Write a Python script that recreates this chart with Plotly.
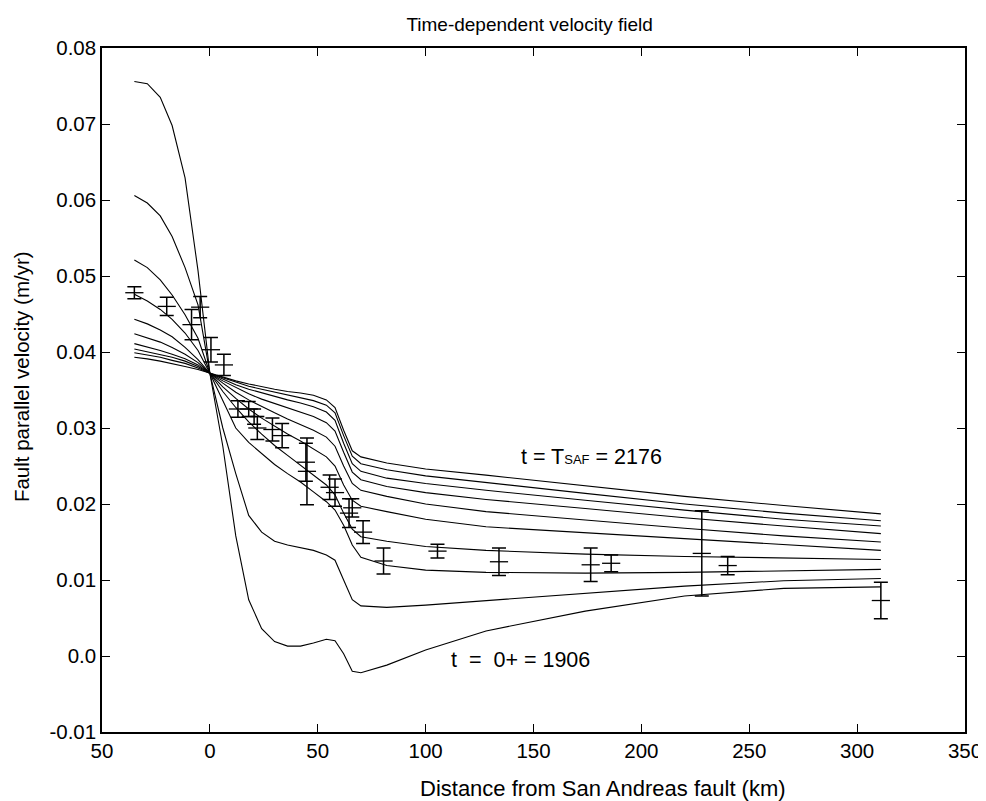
import plotly.graph_objects as go

# ---------------- data ----------------
# model sample positions (km from the San Andreas fault)
x_model = [-35, -29, -23, -17.5, -11.5, -5.5, 0, 6, 12, 18, 24, 30, 36, 42, 48, 54,
           58, 62, 66, 70, 82, 100, 128, 174, 220, 266, 311]

# fault-parallel velocity (m/yr), t = 0+ (1906) ... t = T_SAF (2176)
v_t1 = [0.0756, 0.0753, 0.0735, 0.0698, 0.0629, 0.0507, 0.0372, 0.0276, 0.0158, 0.0074, 0.0036,
        0.0019, 0.0013, 0.0013, 0.0017, 0.0022, 0.0020, 0.0003, -0.0020, -0.0022, -0.0012,
        0.0008, 0.0033, 0.0059, 0.0079, 0.0089, 0.0091]
v_t2 = [0.0606, 0.0596, 0.0579, 0.0552, 0.0511, 0.0462, 0.0372, 0.0300, 0.0240, 0.0185, 0.0163,
        0.0151, 0.0146, 0.0142, 0.0139, 0.0133, 0.0126, 0.0100, 0.0074, 0.0066, 0.0064,
        0.0067, 0.0073, 0.0083, 0.0092, 0.0099, 0.0102]
v_t3 = [0.0521, 0.0511, 0.0495, 0.0475, 0.0449, 0.0418, 0.0372, 0.0335, 0.0300, 0.0281, 0.0266,
        0.0252, 0.0240, 0.0229, 0.0216, 0.0203, 0.0192, 0.0172, 0.0146, 0.0130, 0.0119,
        0.0113, 0.0110, 0.0109, 0.0110, 0.0112, 0.0114]
v_t4 = [0.0476, 0.0467, 0.0456, 0.0443, 0.0425, 0.0402, 0.0372, 0.0348, 0.0327, 0.0308, 0.0292,
        0.0277, 0.0264, 0.0251, 0.0238, 0.0225, 0.0212, 0.0188, 0.0167, 0.0157, 0.0151,
        0.0144, 0.0139, 0.0134, 0.0131, 0.0129, 0.0127]
v_t5 = [0.0443, 0.0437, 0.0429, 0.0420, 0.0406, 0.0390, 0.0372, 0.0354, 0.0339, 0.0325, 0.0313,
        0.0302, 0.0292, 0.0283, 0.0273, 0.0262, 0.0250, 0.0225, 0.0205, 0.0197, 0.0190,
        0.0180, 0.0170, 0.0162, 0.0154, 0.0146, 0.0139]
v_t6 = [0.0424, 0.0419, 0.0413, 0.0406, 0.0397, 0.0386, 0.0372, 0.0359, 0.0347, 0.0337, 0.0328,
        0.0320, 0.0312, 0.0305, 0.0297, 0.0288, 0.0276, 0.0250, 0.0227, 0.0218, 0.0210,
        0.0200, 0.0190, 0.0179, 0.0168, 0.0158, 0.0150]
v_t7 = [0.0411, 0.0407, 0.0402, 0.0397, 0.0391, 0.0383, 0.0372, 0.0362, 0.0353, 0.0345, 0.0338,
        0.0332, 0.0327, 0.0321, 0.0315, 0.0307, 0.0296, 0.0268, 0.0242, 0.0232, 0.0223,
        0.0215, 0.0206, 0.0194, 0.0182, 0.0171, 0.0161]
v_t8 = [0.0404, 0.0400, 0.0397, 0.0393, 0.0388, 0.0381, 0.0372, 0.0364, 0.0357, 0.0351, 0.0346,
        0.0341, 0.0337, 0.0333, 0.0328, 0.0321, 0.0310, 0.0280, 0.0253, 0.0243, 0.0234,
        0.0227, 0.0218, 0.0205, 0.0192, 0.0180, 0.0171]
v_t9 = [0.0399, 0.0396, 0.0393, 0.0389, 0.0385, 0.0379, 0.0372, 0.0366, 0.0360, 0.0355, 0.0351,
        0.0347, 0.0343, 0.0340, 0.0336, 0.0330, 0.0320, 0.0290, 0.0263, 0.0253, 0.0245,
        0.0237, 0.0228, 0.0214, 0.0200, 0.0188, 0.0178]
v_t10 = [0.0393, 0.0391, 0.0388, 0.0385, 0.0381, 0.0377, 0.0372, 0.0367, 0.0362, 0.0358, 0.0354,
         0.0351, 0.0348, 0.0346, 0.0343, 0.0337, 0.0327, 0.0297, 0.0270, 0.0262, 0.0254,
         0.0246, 0.0238, 0.0224, 0.0210, 0.0198, 0.0187]

# observed GPS velocities with 1-sigma errors
x_obs = [-35, -20, -8.5, -4.5, 0.5, 6.5, 13, 18, 20.5, 22, 29, 33.5, 44.5, 45,
         55.5, 58, 64.5, 66, 71, 80.5, 105.5, 134, 176.5, 186, 228, 240, 311]
v_obs = [0.0478, 0.0460, 0.0436, 0.0459, 0.0403, 0.0383, 0.0325, 0.0325, 0.0315, 0.0300,
         0.0298, 0.0290, 0.0255, 0.0243, 0.0222, 0.0215, 0.0188, 0.0195, 0.0163, 0.0125,
         0.0138, 0.0124, 0.0120, 0.0122, 0.0135, 0.0119, 0.0073]
e_obs = [0.0008, 0.0012, 0.0020, 0.0014, 0.0016, 0.0014, 0.0011, 0.0010, 0.0010, 0.0015,
         0.0015, 0.0016, 0.0025, 0.0044, 0.0016, 0.0018, 0.0019, 0.0012, 0.0015, 0.0017,
         0.0009, 0.0018, 0.0022, 0.0011, 0.0056, 0.0012, 0.0024]

x_tickvals = [-50, 0, 50, 100, 150, 200, 250, 300, 350]
x_ticktext = ["50", "0", "50", "100", "150", "200", "250", "300", "350"]
y_tickvals = [-0.01, 0.0, 0.01, 0.02, 0.03, 0.04, 0.05, 0.06, 0.07, 0.08]
y_ticktext = ["-0.01", "0.0", "0.01", "0.02", "0.03", "0.04", "0.05", "0.06", "0.07", "0.08"]

# ---------------- figure ----------------
FONT = "Liberation Sans, Arial, sans-serif"
fig = go.Figure()

for v in [v_t1, v_t2, v_t3, v_t4, v_t5, v_t6, v_t7, v_t8, v_t9, v_t10]:
    fig.add_trace(go.Scatter(x=x_model, y=v, mode="lines",
                             line=dict(color="black", width=1.1),
                             showlegend=False, hoverinfo="skip"))

fig.add_trace(go.Scatter(
    x=x_obs, y=v_obs, mode="markers",
    marker=dict(symbol="line-ew", size=13, color="black",
                line=dict(color="black", width=1.3)),
    error_y=dict(type="data", array=e_obs, visible=True, color="black",
                 thickness=1.5, width=7),
    showlegend=False))

fig.add_annotation(x=177, y=0.0262, text="t = T<span style='font-size:13px'>SAF</span> = 2176",
                   showarrow=False, font=dict(family=FONT, size=21.5, color="black"))
fig.add_annotation(x=144, y=-0.0005, text="t  =  0+ = 1906",
                   showarrow=False, font=dict(family=FONT, size=21.5, color="black"))

# axis titles (placed to match the original layout)
fig.add_annotation(x=0.58, y=-0.083, xref="paper", yref="paper",
                   text="Distance from San Andreas fault (km)", showarrow=False,
                   xanchor="center", yanchor="middle",
                   font=dict(family=FONT, size=22, color="black"))
fig.add_annotation(x=-0.093, y=0.52, xref="paper", yref="paper",
                   text="Fault parallel velocity (m/yr)", showarrow=False,
                   textangle=-90, xanchor="center", yanchor="middle",
                   font=dict(family=FONT, size=20.5, color="black"))

axis_common = dict(showgrid=False, zeroline=False, showline=True, linecolor="black",
                   linewidth=1.5, mirror="ticks", ticks="inside", ticklen=8,
                   tickcolor="black", tickwidth=1,
                   tickfont=dict(family=FONT, size=20.5, color="black"))

fig.update_xaxes(range=[-50, 350], tickvals=x_tickvals, ticktext=x_ticktext,
                 **axis_common)
fig.update_yaxes(range=[-0.01, 0.08], tickvals=y_tickvals, ticktext=y_ticktext,
                 **axis_common)

fig.update_layout(
    width=986, height=801,
    margin=dict(l=94, r=23, t=40, b=77),
    paper_bgcolor="white", plot_bgcolor="white",
    title=dict(text="Time-dependent velocity field", x=0.529, xanchor="center",
               y=0.979, yanchor="middle",
               font=dict(family=FONT, size=19, color="black")),
)

fig.write_html("out.html")
